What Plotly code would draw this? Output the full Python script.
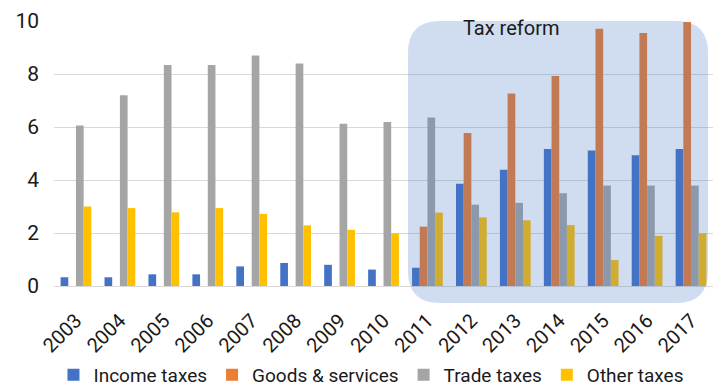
import plotly.graph_objects as go

years = [str(y) for y in range(2003, 2018)]
income_taxes = [0.33, 0.33, 0.44, 0.44, 0.74, 0.87, 0.80, 0.62, 0.69, 3.86, 4.39, 5.17, 5.11, 4.93, 5.17]
goods_services = [None, None, None, None, None, None, None, None, 2.24, 5.77, 7.26, 7.92, 9.71, 9.55, 9.96]
trade_taxes = [6.06, 7.20, 8.34, 8.34, 8.70, 8.40, 6.12, 6.19, 6.36, 3.07, 3.14, 3.50, 3.79, 3.79, 3.79]
other_taxes = [3.00, 2.94, 2.78, 2.94, 2.72, 2.29, 2.12, 1.99, 2.77, 2.59, 2.48, 2.30, 0.98, 1.89, 1.99]

series = [
    ("Income taxes", income_taxes, "#4472C4"),
    ("Goods & services", goods_services, "#ED7D31"),
    ("Trade taxes", trade_taxes, "#A5A5A5"),
    ("Other taxes", other_taxes, "#FFC000"),
]

FONT = "Roboto, Lato, Arial, sans-serif"
W, H = 713, 387
M_L, M_R, M_T, M_B = 54, 0, 21, 101
PW, PH = W - M_L - M_R, H - M_T - M_B

fig = go.Figure()
for name, vals, color in series:
    fig.add_trace(go.Bar(x=years, y=vals, name=name, marker=dict(color=color, line_width=0)))


def rounded_rect(x0, y0, x1, y1, r):
    """Rounded rectangle path in paper coordinates, r given in pixels."""
    rx, ry = r / PW, r / PH
    return (
        f"M {x0 + rx},{y1} L {x1 - rx},{y1} Q {x1},{y1} {x1},{y1 - ry} "
        f"L {x1},{y0 + ry} Q {x1},{y0} {x1 - rx},{y0} "
        f"L {x0 + rx},{y0} Q {x0},{y0} {x0},{y0 + ry} "
        f"L {x0},{y1 - ry} Q {x0},{y1} {x0 + rx},{y1} Z"
    )


def px_x(p):
    return (p - M_L) / PW


def px_y(p):
    return (M_T + PH - p) / PH


# translucent "Tax reform" highlight over the reform years
fig.add_shape(
    type="path",
    xref="paper", yref="paper",
    path=rounded_rect(px_x(408), px_y(303), px_x(708), px_y(21), 32),
    fillcolor="rgba(68,114,196,0.25)",
    line_width=0,
    layer="above",
)

fig.add_annotation(
    text="Tax reform", xref="paper", yref="paper",
    x=px_x(511), y=px_y(28), xanchor="center", yanchor="middle", showarrow=False,
    font=dict(family=FONT, size=20, color="#1a1a1a"),
)

fig.update_layout(
    width=W, height=H,
    margin=dict(l=M_L, r=M_R, t=M_T, b=M_B, autoexpand=False),
    paper_bgcolor="white", plot_bgcolor="white",
    barmode="group", bargap=0.3, bargroupgap=0,
    font=dict(family=FONT, size=19, color="#1a1a1a"),
    showlegend=True,
    legend=dict(
        orientation="h", x=0.481, xanchor="center", y=px_y(375), yanchor="middle",
        font=dict(family=FONT, size=19, color="#1a1a1a"),
        itemsizing="constant",
    ),
    xaxis=dict(
        type="category", tickangle=-45, showgrid=False, showline=False, ticks="",
        tickfont=dict(size=20), automargin=False, ticklabelstandoff=18,
    ),
    yaxis=dict(
        range=[0, 10], dtick=2, showgrid=True, gridcolor="#D9D9D9", gridwidth=1,
        zeroline=True, zerolinecolor="#D9D9D9", zerolinewidth=1,
        showline=False, ticks="", ticklabelstandoff=14, automargin=False,
        tickfont=dict(size=21),
    ),
)

fig.write_html("out.html")
